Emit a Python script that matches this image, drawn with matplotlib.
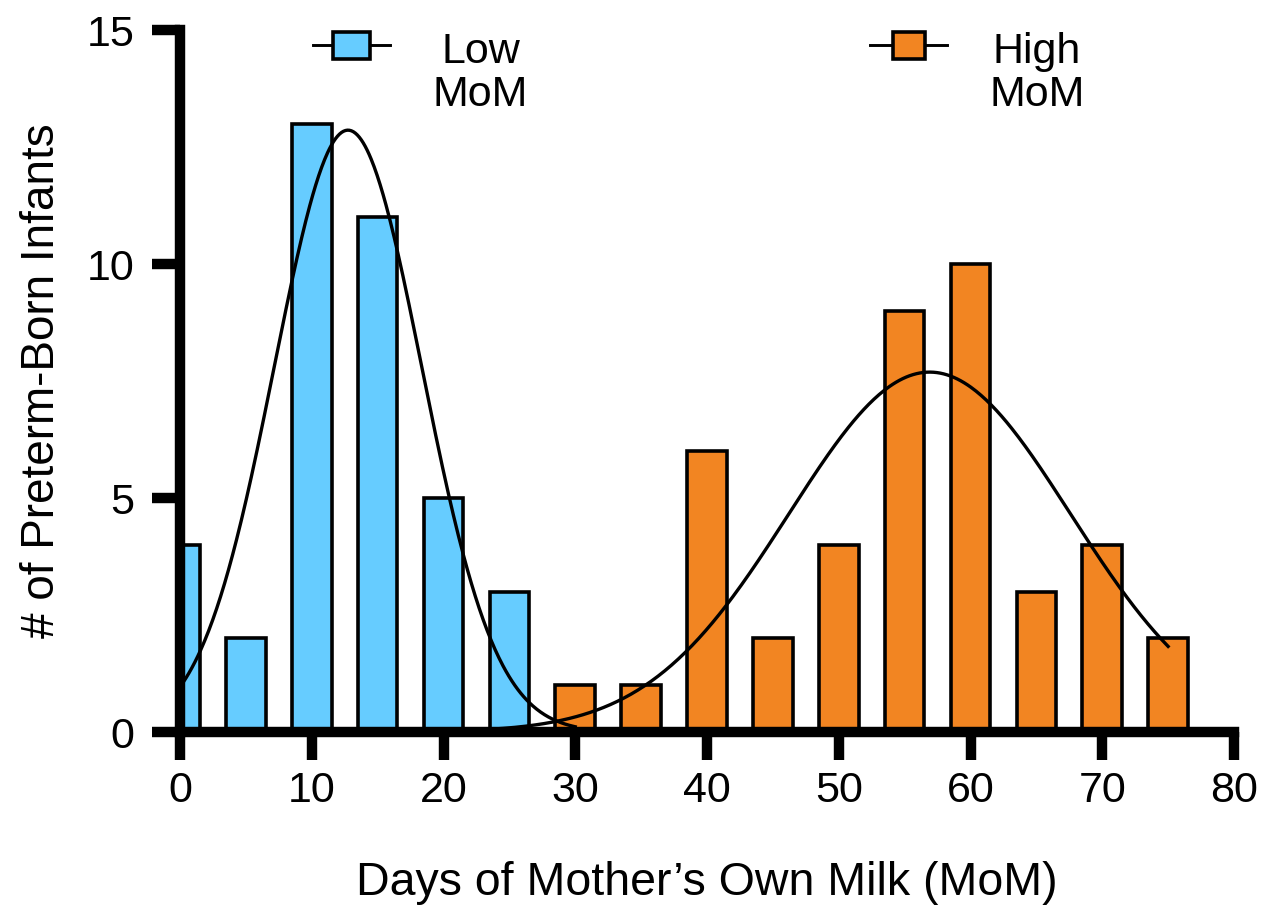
import numpy as np
import matplotlib
matplotlib.use("Agg")
import matplotlib.pyplot as plt
from matplotlib.lines import Line2D
from matplotlib.patches import Rectangle

plt.rcParams['font.family'] = ['Liberation Sans', 'DejaVu Sans']

# ---- data ----
low_days = [0, 5, 10, 15, 20, 25]
low_counts = [4, 2, 13, 11, 5, 3]
high_days = [30, 35, 40, 45, 50, 55, 60, 65, 70, 75]
high_counts = [1, 1, 6, 2, 4, 9, 10, 3, 4, 2]

# Gaussian fits (amplitude, mean, sd, x-range)
low_fit = dict(amp=12.86, mean=12.75, sd=5.6, x0=0, x1=30)
high_fit = dict(amp=7.69, mean=56.9, sd=10.68, x0=23.5, x1=75)

x_ticks = [0, 10, 20, 30, 40, 50, 60, 70, 80]
y_ticks = [0, 5, 10, 15]

low_color = '#66CCFF'
high_color = '#F28522'

W, H = 1267, 908
fig = plt.figure(figsize=(W / 100, H / 100), dpi=100)
ax = fig.add_axes([180 / W, 1 - 732 / H, (1234 - 180) / W, (732 - 30) / H])

bw = 3
ax.bar(low_days, low_counts, width=bw, color=low_color, edgecolor='black', linewidth=2.6, zorder=1)
ax.bar(high_days, high_counts, width=bw, color=high_color, edgecolor='black', linewidth=2.6, zorder=1)

for f in (low_fit, high_fit):
    xs = np.linspace(f['x0'], f['x1'], 400)
    ys = f['amp'] * np.exp(-(xs - f['mean']) ** 2 / (2 * f['sd'] ** 2))
    ax.plot(xs, ys, color='black', linewidth=2.4, zorder=3, clip_on=False)

ax.set_xlim(0, 80)
ax.set_ylim(0, 15)
ax.set_xticks(x_ticks)
ax.set_yticks(y_ticks)
for s in ('top', 'right'):
    ax.spines[s].set_visible(False)
for s in ('left', 'bottom'):
    ax.spines[s].set_linewidth(7.5)
    ax.spines[s].set_capstyle('projecting')
ax.tick_params(axis='both', width=7.5, length=20, labelsize=31)
ax.tick_params(axis='x', pad=8)
ax.tick_params(axis='y', pad=13)

ax.set_xlabel("Days of Mother\u2019s Own Milk (MoM)", fontsize=33.5, labelpad=36)
ax.set_ylabel("# of Preterm-Born Infants", fontsize=33, labelpad=16)

# ---- legend (manual, GraphPad style) ----
def legend_entry(x_line0, x_line1, bx0, bx1, y, color, text_x, label):
    ax.add_line(Line2D([x_line0, x_line1], [y, y], color='black', linewidth=2.1,
                       transform=ax.transAxes, clip_on=False, zorder=4))
    bh = 0.0385
    ax.add_patch(Rectangle((bx0, y - bh / 2), bx1 - bx0, bh, facecolor=color,
                           edgecolor='black', linewidth=2.6, transform=ax.transAxes,
                           clip_on=False, zorder=5))
    ax.text(text_x, 0.938, label, transform=ax.transAxes, fontsize=31,
            ha='center', va='center', multialignment='center', linespacing=1.12)

legend_entry(0.126, 0.199, 0.145, 0.180, 0.9786, low_color, 0.285, "Low\nMoM")
legend_entry(0.655, 0.728, 0.676, 0.707, 0.9786, high_color, 0.813, "High\nMoM")

fig.savefig("out.png", dpi=100)
